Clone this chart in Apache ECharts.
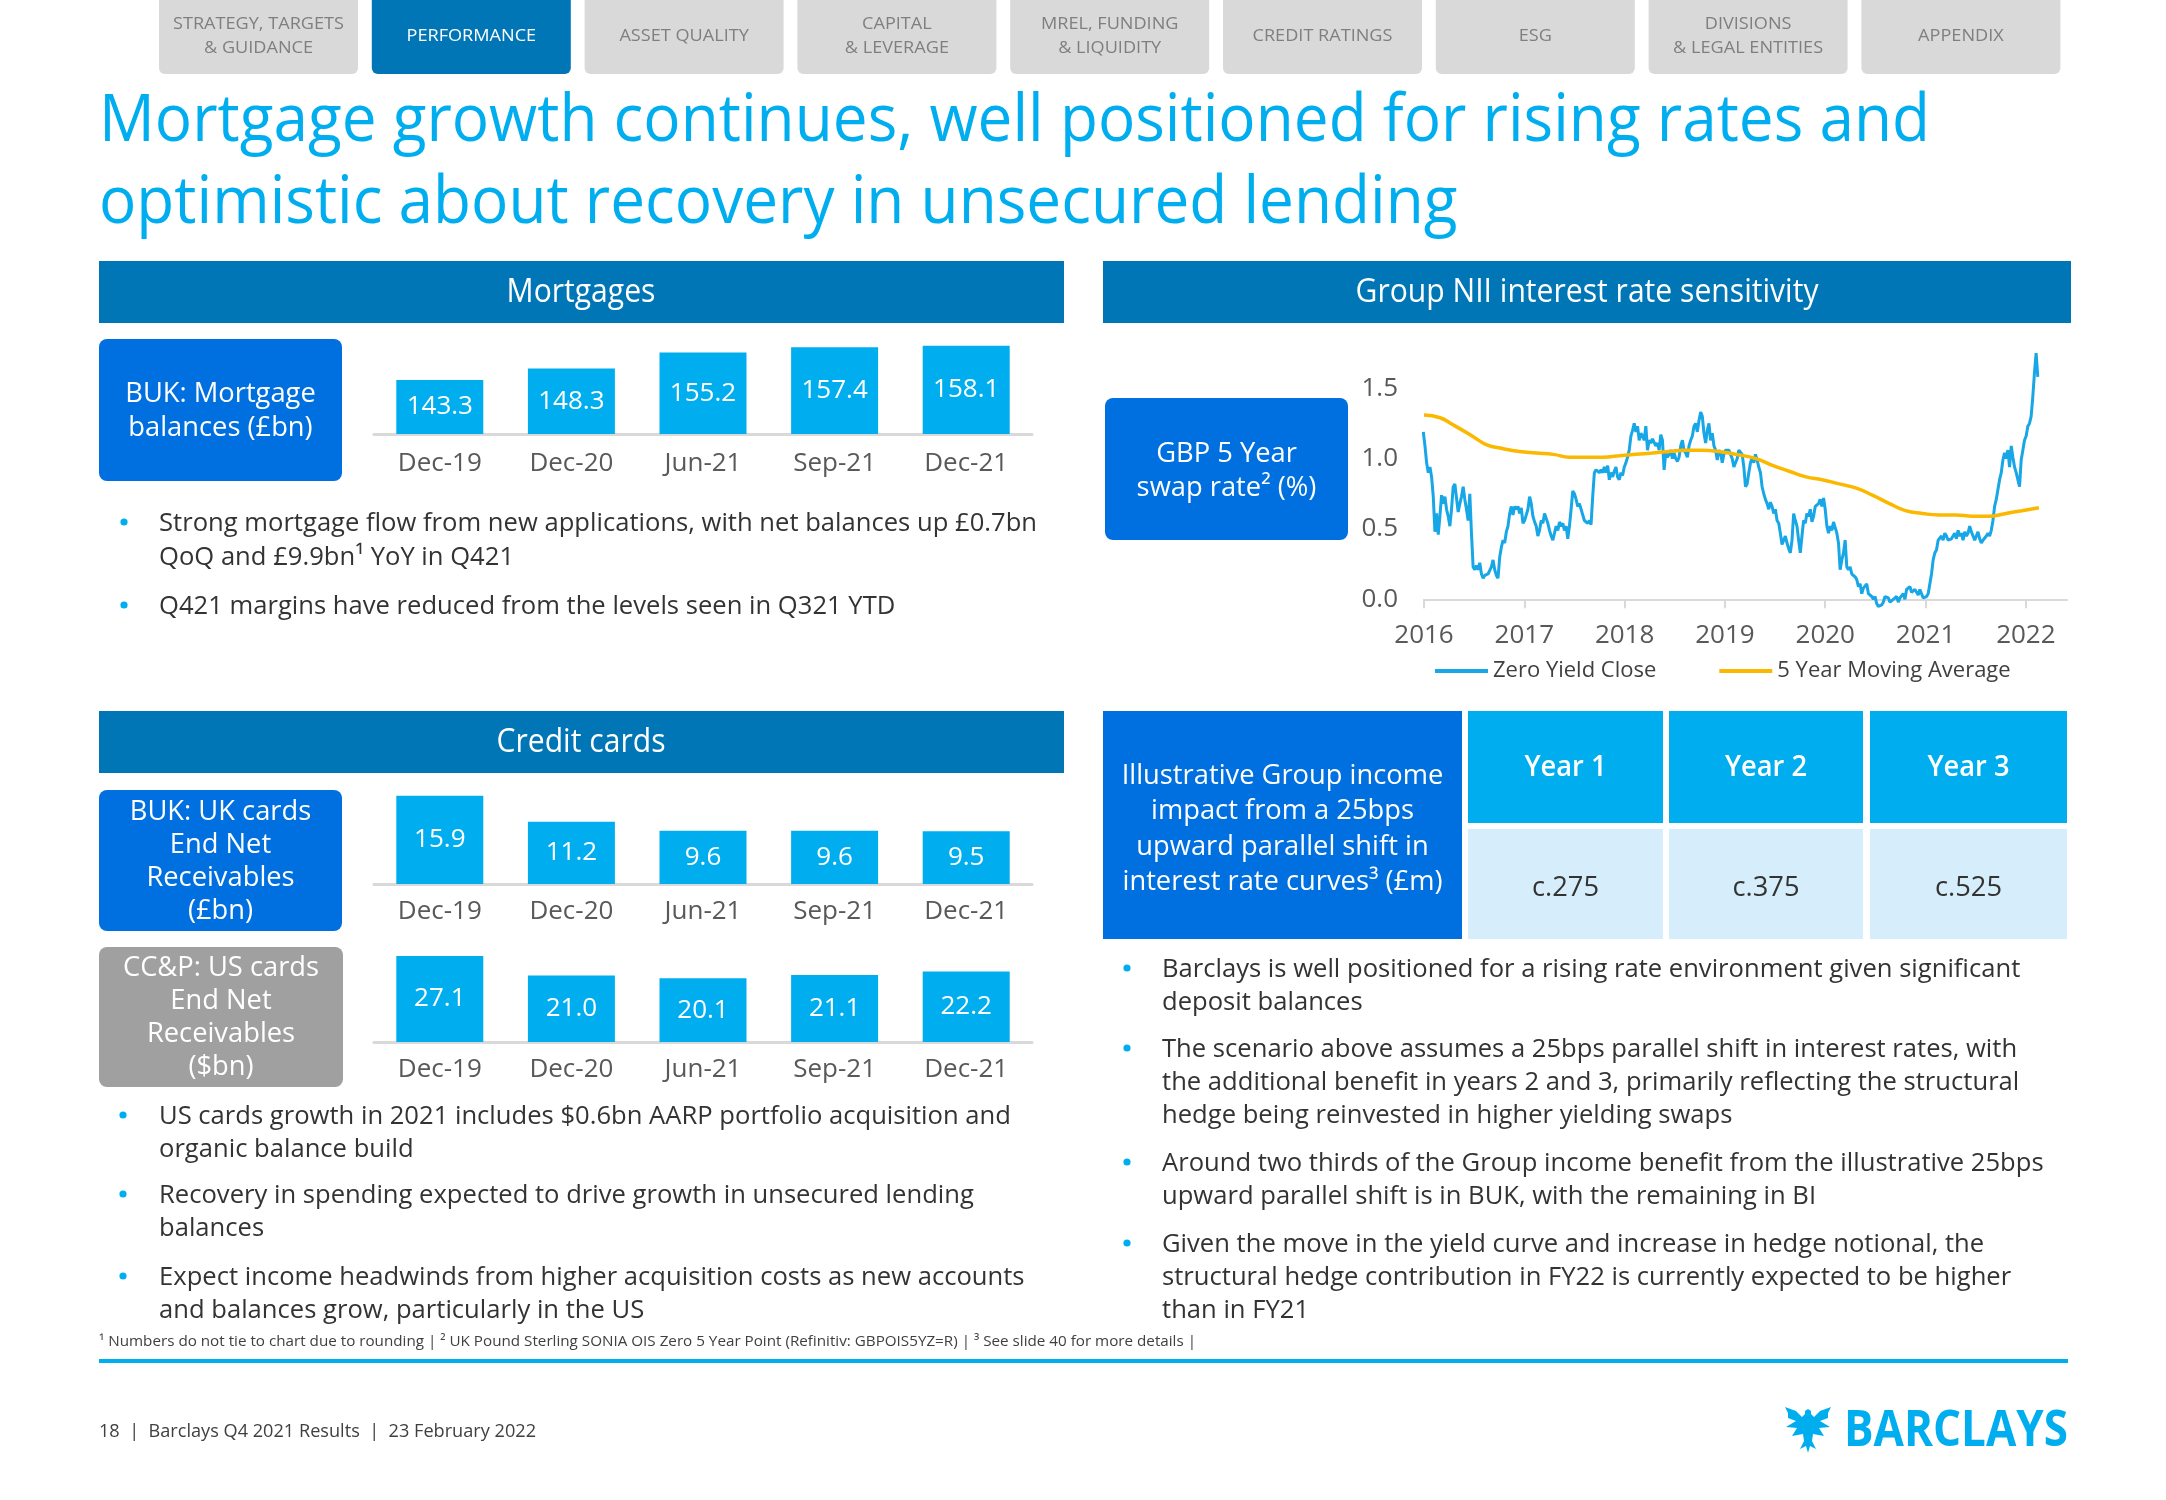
<!DOCTYPE html>
<html><head><meta charset="utf-8">
<script src="https://cdn.jsdelivr.net/npm/echarts@6/dist/echarts.min.js"></script>
<style>html,body{margin:0;padding:0;background:#fff}#c{width:2166px;height:1500px}</style>
</head><body><div id="c"></div>
<script>
// ---------------- DATA ----------------
const navTabs = ['STRATEGY, TARGETS\n& GUIDANCE','PERFORMANCE','ASSET QUALITY','CAPITAL\n& LEVERAGE','MREL, FUNDING\n& LIQUIDITY','CREDIT RATINGS','ESG','DIVISIONS\n& LEGAL ENTITIES','APPENDIX'];
const activeTab = 1;
const titleLines = ['Mortgage growth continues, well positioned for rising rates and','optimistic about recovery in unsecured lending'];
const periods = ['Dec-19','Dec-20','Jun-21','Sep-21','Dec-21'];
const mortgageBalances = [143.3,148.3,155.2,157.4,158.1];
const ukCardsReceivables = [15.9,11.2,9.6,9.6,9.5];
const usCardsReceivables = [27.1,21.0,20.1,21.1,22.2];
const swapYearTicks = [2016,2017,2018,2019,2020,2021,2022];
const swapRateTicks = [0,0.5,1.0,1.5];
const swapStart = 2015.993, swapStep = 5/302; // ~6-day samples
const zeroYieldClose = [
1.19,1.09,0.97,0.90,0.94,0.87,0.73,0.48,0.61,0.46,
0.59,0.74,0.68,0.73,0.64,0.59,0.52,0.64,0.80,0.82,
0.72,0.62,0.68,0.73,0.80,0.71,0.64,0.56,0.75,0.47,
0.23,0.21,0.24,0.21,0.26,0.18,0.15,0.17,0.16,0.18,
0.18,0.23,0.28,0.21,0.17,0.15,0.30,0.37,0.42,0.40,
0.48,0.52,0.61,0.66,0.60,0.66,0.64,0.66,0.61,0.65,
0.54,0.56,0.55,0.64,0.73,0.68,0.59,0.55,0.52,0.45,
0.49,0.56,0.54,0.61,0.62,0.54,0.49,0.45,0.42,0.47,
0.52,0.49,0.55,0.52,0.54,0.49,0.52,0.43,0.52,0.64,
0.77,0.75,0.71,0.66,0.68,0.64,0.65,0.56,0.55,0.54,
0.56,0.53,0.73,0.90,0.92,0.93,0.90,0.92,0.90,0.94,
0.90,0.95,0.85,0.90,0.87,0.91,0.94,0.87,0.85,0.90,
0.88,0.94,0.97,1.01,1.06,1.16,1.20,1.25,1.19,1.23,
1.13,1.18,1.16,1.13,1.23,1.06,1.13,1.11,1.14,1.13,
1.09,1.11,1.06,1.17,1.13,0.92,1.04,1.01,1.03,1.06,
1.00,1.04,1.00,0.98,1.01,1.09,1.13,1.06,1.04,1.01,
1.09,1.13,1.16,1.23,1.25,1.19,1.27,1.33,1.30,1.18,
1.11,1.20,1.25,1.13,1.18,1.09,1.06,0.99,1.06,1.04,
0.97,1.03,1.06,1.07,1.06,1.03,1.00,0.94,0.97,1.00,
1.06,1.07,1.03,0.94,0.80,0.82,0.90,
0.97,1.01,0.97,1.03,0.99,0.94,0.90,0.80,0.75,0.71,
0.68,0.64,0.69,0.66,0.61,0.64,0.56,0.54,0.47,0.39,
0.42,0.45,0.40,0.36,0.33,0.42,0.61,0.56,0.52,0.42,
0.33,0.45,0.56,0.54,0.61,0.59,0.64,0.55,0.59,0.66,
0.65,0.68,0.71,0.66,0.72,0.64,0.52,0.47,0.52,0.49,
0.55,0.54,0.47,0.40,0.21,0.28,0.33,0.42,0.23,0.21,
0.23,0.18,0.18,0.16,0.14,0.09,0.11,0.04,0.08,0.09,
0.11,0.04,0.04,0.02,0.00,0.02,-0.03,-0.05,-0.06,-0.04,
-0.02,0.02,0.03,0.01,-0.02,-0.03,0.00,0.01,0.02,-0.02,
0.01,0.02,0.04,0.00,0.07,0.08,0.09,0.05,0.04,0.07,
0.05,0.03,0.07,0.04,0.01,0.00,0.02,0.04,0.05,0.18,
0.28,0.33,0.35,0.42,0.41,0.45,0.42,0.47,0.45,0.42,
0.41,0.43,0.45,0.47,0.43,0.49,0.45,0.47,0.42,0.48,
0.45,0.47,0.52,0.48,0.47,0.42,0.45,0.48,0.43,0.40,
0.42,0.42,0.45,0.47,0.45,0.49,0.56,0.66,0.71,0.78,
0.85,0.90,0.99,1.04,1.00,1.06,0.94,1.09,1.01,0.94,
0.90,0.85,0.80,0.99,1.06,1.13,1.16,1.23,1.25,1.30,
1.44,1.61,1.75,1.58
];
const movingAvgYears = [2016.00,2016.16,2016.29,2016.46,2016.62,2016.79,2016.95,2017.12,2017.29,2017.45,2017.62,2017.78,2017.95,2018.11,2018.28,2018.44,2018.61,2018.77,2018.94,2019.11,2019.31,2019.48,2019.64,2019.81,2019.97,2020.14,2020.31,2020.47,2020.64,2020.80,2020.97,2021.13,2021.30,2021.47,2021.63,2021.80,2021.96,2022.13];
const movingAvgValues = [1.31,1.29,1.24,1.17,1.10,1.07,1.05,1.04,1.03,1.01,1.01,1.01,1.02,1.03,1.04,1.05,1.06,1.06,1.05,1.03,1.00,0.95,0.91,0.87,0.85,0.82,0.79,0.74,0.68,0.63,0.61,0.60,0.60,0.59,0.59,0.61,0.63,0.65];
const tableHeaders = ['Year 1','Year 2','Year 3'];
const tableValues = ['c.275','c.375','c.525'];
const mortgageBullets = ['Strong mortgage flow from new applications, with net balances up £0.7bn\nQoQ and £9.9bn¹ YoY in Q421','Q421 margins have reduced from the levels seen in Q321 YTD'];
const cardBullets = ['US cards growth in 2021 includes $0.6bn AARP portfolio acquisition and\norganic balance build','Recovery in spending expected to drive growth in unsecured lending\nbalances','Expect income headwinds from higher acquisition costs as new accounts\nand balances grow, particularly in the US'];
const rateBullets = ['Barclays is well positioned for a rising rate environment given significant\ndeposit balances','The scenario above assumes a 25bps parallel shift in interest rates, with\nthe additional benefit in years 2 and 3, primarily reflecting the structural\nhedge being reinvested in higher yielding swaps','Around two thirds of the Group income benefit from the illustrative 25bps\nupward parallel shift is in BUK, with the remaining in BI','Given the move in the yield curve and increase in hedge notional, the\nstructural hedge contribution in FY22 is currently expected to be higher\nthan in FY21'];
const footnoteText = '¹ Numbers do not tie to chart due to rounding | ² UK Pound Sterling SONIA OIS Zero 5 Year Point (Refinitiv: GBPOIS5YZ=R) | ³ See slide 40 for more details |';
const footerText = '18  |  Barclays Q4 2021 Results  |  23 February 2022';

// ---------------- STYLE HELPERS ----------------
const FF = '"Open Sans", "Noto Sans", sans-serif';
const CYAN = '#00aeef', HEADBLUE = '#0076b6', BOXBLUE = '#0070e0', TXT = '#333333', AX = '#595959';
const mctx = document.createElement('canvas').getContext('2d');
function tw(t, size, weight){ mctx.font = (weight||'normal')+' '+size+'px '+FF; return Math.max(...t.split('\n').map(l=>mctx.measureText(l).width)); }
function fit(t,size,target,weight){ const s = target / tw(t,size,weight); return Math.min(1.3, Math.max(0.6, s)); }

const sTitle = fit(titleLines[0],66,1831);
const sHead = fit('Group NII interest rate sensitivity',32,463);
const sBody = fit('Strong mortgage flow from new applications, with net balances up £0.7bn',26,878);
const sBox = fit('interest rate curves³ (£m)',28,320);
const sNav = fit('STRATEGY, TARGETS',16,171);
const sFoot = fit(footnoteText,15,1097);
const sFooter = fit(footerText,19,437);
const sLogo = fit('BARCLAYS',50,224,'bold');

function T(x,y,text,size,color,o){
  o = o||{};
  return {type:'text', x:x, y:y, scaleX:o.sx||1, z:100, silent:true,
    style:{text:text, fill:color, fontSize:size, fontFamily:FF, fontWeight:o.weight||'normal',
      align:o.align||'left', textAlign:o.align||'left', verticalAlign:'middle', textVerticalAlign:'middle',
      lineHeight:o.lh||Math.round(size*1.25)}};
}
function R(x,y,w,h,fill,r){ return {type:'rect', z:10, silent:true, shape:{x:x,y:y,width:w,height:h,r:r||0}, style:{fill:fill}}; }
function Dot(x,y){ return {type:'circle', z:100, silent:true, shape:{cx:x,cy:y,r:3.6}, style:{fill:CYAN}}; }

const g = [];
// nav tabs
navTabs.forEach((t,i)=>{
  const x = 159 + i*212.8;
  g.push(R(x,-10,199,84,i===activeTab?HEADBLUE:'#d9d9d9',6));
  g.push(T(x+99.5,36,t,16,i===activeTab?'#ffffff':'#7f7f7f',{align:'center',lh:24,sx:sNav}));
});
// title
g.push(T(99,122,titleLines[0],66,CYAN,{sx:sTitle}));
g.push(T(99,204,titleLines[1],66,CYAN,{sx:sTitle}));
// section headers
g.push(R(99,261,965,62,HEADBLUE)); g.push(T(581,293,'Mortgages',32,'#fff',{align:'center',sx:sHead}));
g.push(R(1103,261,968,62,HEADBLUE)); g.push(T(1587,293,'Group NII interest rate sensitivity',32,'#fff',{align:'center',sx:sHead}));
g.push(R(99,711,965,62,HEADBLUE)); g.push(T(581,743,'Credit cards',32,'#fff',{align:'center',sx:sHead}));
// label boxes
g.push(R(99,339,243,142,BOXBLUE,8)); g.push(T(220.5,411,'BUK: Mortgage\nbalances (£bn)',28,'#fff',{align:'center',lh:34,sx:sBox}));
g.push(R(1105,398,243,142,BOXBLUE,8)); g.push(T(1226.5,471,'GBP 5 Year\nswap rate² (%)',28,'#fff',{align:'center',lh:34,sx:sBox}));
g.push(R(99,790,243,141,BOXBLUE,8)); g.push(T(220.5,862,'BUK: UK cards\nEnd Net\nReceivables\n(£bn)',28,'#fff',{align:'center',lh:33,sx:sBox}));
g.push(R(99,947,244,140,'#a0a0a0',8)); g.push(T(221,1018,'CC&P: US cards\nEnd Net\nReceivables\n($bn)',28,'#fff',{align:'center',lh:33,sx:sBox}));
// table
g.push(R(1103,711,359,228,BOXBLUE)); g.push(T(1282.5,829,'Illustrative Group income\nimpact from a 25bps\nupward parallel shift in\ninterest rate curves³ (£m)',28,'#fff',{align:'center',lh:35.5,sx:sBox}));
const colX = [[1468,195],[1669,194],[1870,197]];
tableHeaders.forEach((h,i)=>{
  g.push(R(colX[i][0],711,colX[i][1],112,CYAN)); g.push(T(colX[i][0]+colX[i][1]/2,768,h,28,'#fff',{align:'center',weight:600,sx:sBox}));
  g.push(R(colX[i][0],829,colX[i][1],110,'#d6eefb')); g.push(T(colX[i][0]+colX[i][1]/2,888,tableValues[i],28,TXT,{align:'center',sx:sBox}));
});
// bullets
function bullets(list, firstCenters, dotX, textX, lh){
  list.forEach((t,i)=>{
    const n = t.split('\n').length; const c = firstCenters[i] + 3 + (n-1)*lh/2;
    g.push(Dot(dotX, firstCenters[i]+1)); g.push(T(textX,c,t,26,TXT,{lh:lh,sx:sBody}));
  });
}
bullets(mortgageBullets,[521,604],124,159,34);
bullets(cardBullets,[1114,1193,1275],123,159,33);
bullets(rateBullets,[967,1047,1161,1242],1127,1162,33);
// footnote, rule, footer, logo
g.push(T(99,1342,footnoteText,15,'#404040',{sx:sFoot}));
g.push(R(99,1359,1969,4,CYAN));
g.push(T(99,1432,footerText,19,'#404040',{sx:sFooter}));
g.push(T(2068,1432,'BARCLAYS',50,CYAN,{align:'right',weight:'bold',sx:sLogo}));
const eagle = [[26,4],[23,6],[23,9],[20,12],[14,6],[3,2],[6,8],[6,13],[14,16],[4,22],[15,23],[10,31],[21,29],[22,36],[18,44],[24,41],[26,48],[28,41],[34,44],[30,36],[31,29],[42,31],[37,23],[48,22],[38,16],[46,13],[46,8],[49,2],[38,6],[32,12],[29,9],[29,6]];
g.push({type:'polygon', z:100, silent:true, x:1782, y:1405, shape:{points:eagle}, style:{fill:CYAN}});

// ---------------- CHART OPTION ----------------
function barX(gi,margin){ return {type:'category', gridIndex:gi, data:periods, axisTick:{show:false},
  axisLine:{lineStyle:{color:'#d9d9d9',width:3}}, axisLabel:{color:AX,fontSize:26,fontFamily:FF,margin:margin}}; }
function barY(gi,min,max){ return {type:'value', gridIndex:gi, min:min, max:max, show:false, splitLine:{show:false}}; }
function barS(gi,data){ return {type:'bar', xAxisIndex:gi, yAxisIndex:gi, data:data, barWidth:87, itemStyle:{color:CYAN},
  label:{show:true, position:'inside', color:'#fff', fontSize:26, fontFamily:FF, formatter:p=>Number(p.value).toFixed(1)}, silent:true, animation:false}; }

const option = {
  animation:false,
  backgroundColor:'#ffffff',
  textStyle:{fontFamily:FF},
  graphic:{elements:g},
  grid:[
    {left:374, width:658, top:341.3, height:92.7},
    {left:374, width:658, top:795.2, height:88.8},
    {left:374, width:658, top:953.2, height:88.8},
    {left:1424, width:643, top:346, height:267.4}
  ],
  legend:{data:['Zero Yield Close','5 Year Moving Average'], left:1430, top:655, icon:'rect', itemWidth:53, itemHeight:4, itemGap:63,
    textStyle:{fontSize:22, color:'#404040', fontFamily:FF}},
  xAxis:[barX(0,17),barX(1,15),barX(2,15),
    {type:'value', gridIndex:3, min:2016, max:2022.41, interval:1,
     axisLine:{onZero:true, lineStyle:{color:'#d9d9d9',width:2}},
     axisTick:{show:true, length:9, lineStyle:{color:'#d9d9d9',width:2}, customValues:swapYearTicks},
     axisLabel:{color:AX, fontSize:26, fontFamily:FF, margin:9, customValues:swapYearTicks, formatter:v=>Number.isInteger(v)?String(v):''},
     splitLine:{show:false}}],
  yAxis:[barY(0,120,160),barY(1,0,16),barY(2,0,28),
    {type:'value', gridIndex:3, min:-0.1, max:1.8, axisLine:{show:false}, axisTick:{show:false}, splitLine:{show:false},
     axisLabel:{color:AX, fontSize:26, fontFamily:FF, margin:26, customValues:swapRateTicks, formatter:v=>Number(v).toFixed(1)}}],
  series:[
    barS(0,mortgageBalances), barS(1,ukCardsReceivables), barS(2,usCardsReceivables),
    {name:'Zero Yield Close', type:'line', xAxisIndex:3, yAxisIndex:3, showSymbol:false, symbol:'none',
     data:zeroYieldClose.map((v,i)=>[swapStart+i*swapStep, v]), lineStyle:{color:'#17a6e6',width:3}, itemStyle:{color:'#17a6e6'}, z:2},
    {name:'5 Year Moving Average', type:'line', xAxisIndex:3, yAxisIndex:3, showSymbol:false, symbol:'none', smooth:true,
     data:movingAvgYears.map((y,i)=>[y, movingAvgValues[i]]), lineStyle:{color:'#fbb800',width:3.5}, itemStyle:{color:'#fbb800'}, z:3}
  ]
};
const chart = echarts.init(document.getElementById('c'), null, {renderer:'canvas', width:2166, height:1500});
chart.setOption(option);
</script>
</body></html>
